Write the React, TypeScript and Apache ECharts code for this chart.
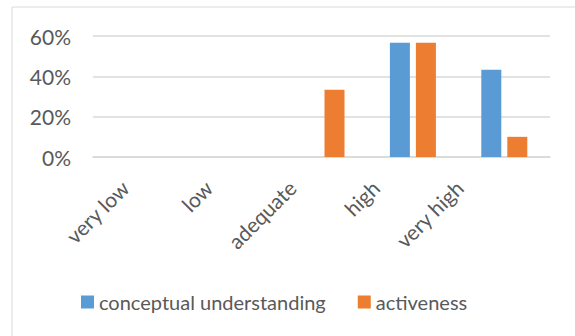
import React, { useEffect, useRef } from "react";
import * as echarts from "echarts";

const categories = ["very low", "low", "adequate", "high", "very high"];
const conceptualUnderstanding = [0, 0, 0, 56.7, 43.3];
const activeness = [0, 0, 33.3, 56.7, 10];
const seriesNames = ["conceptual understanding", "activeness"];
const yTicks = { min: 0, max: 60, interval: 20 };

const FONT = "Lato";
const TEXT = "#595959";
const GRID = "#d9d9d9";

export default function App() {
  const ref = useRef<HTMLDivElement>(null);
  useEffect(() => {
    if (!ref.current) return;
    const chart = echarts.init(ref.current, undefined, { renderer: "svg" });
    chart.setOption({
      animation: false,
      backgroundColor: "#ffffff",
      textStyle: { fontFamily: FONT },
      graphic: [
        {
          type: "rect",
          shape: { x: 12, y: 7, width: 620, height: 400 },
          style: { fill: "none", stroke: GRID, lineWidth: 1 },
          silent: true,
        },
      ],
      grid: [
        { left: 93, right: 25, top: 36, bottom: 179 },
        { left: 83, right: 74, top: 36, bottom: 179 },
      ],
      legend: {
        left: 76,
        top: 287,
        icon: "rect",
        itemWidth: 13,
        itemHeight: 13,
        itemGap: 32,
        textStyle: { fontFamily: FONT, fontSize: 20, color: TEXT },
        data: seriesNames,
      },
      xAxis: [
        {
          type: "category",
          gridIndex: 0,
          data: categories,
          axisLine: { show: true, lineStyle: { color: GRID, width: 1.5 } },
          axisTick: { show: false },
          axisLabel: { show: false },
        },
        {
          type: "category",
          gridIndex: 1,
          data: categories,
          axisLine: { show: false },
          axisTick: { show: false },
          axisLabel: {
            interval: 0,
            rotate: 45,
            margin: 27,
            fontFamily: FONT,
            fontSize: 21,
            color: TEXT,
          },
        },
      ],
      yAxis: [
        {
          type: "value",
          gridIndex: 0,
          min: yTicks.min,
          max: yTicks.max,
          interval: yTicks.interval,
          axisLine: { show: false },
          axisTick: { show: false },
          splitLine: { lineStyle: { color: GRID, width: 1.5 } },
          axisLabel: {
            formatter: "{value}%",
            margin: 22,
            fontFamily: FONT,
            fontSize: 21,
            color: TEXT,
          },
        },
        {
          type: "value",
          gridIndex: 1,
          min: yTicks.min,
          max: yTicks.max,
          show: false,
        },
      ],
      series: [
        {
          name: seriesNames[0],
          type: "bar",
          xAxisIndex: 0,
          yAxisIndex: 0,
          data: conceptualUnderstanding,
          barWidth: 20,
          barGap: "30%",
          itemStyle: { color: "#5B9BD5" },
        },
        {
          name: seriesNames[1],
          type: "bar",
          xAxisIndex: 0,
          yAxisIndex: 0,
          data: activeness,
          barWidth: 20,
          barGap: "30%",
          itemStyle: { color: "#ED7D31" },
        },
      ],
    });
    return () => chart.dispose();
  }, []);
  return (
    <div
      ref={ref}
      style={{ position: "fixed", left: 0, top: 0, width: 575, height: 336 }}
    />
  );
}
